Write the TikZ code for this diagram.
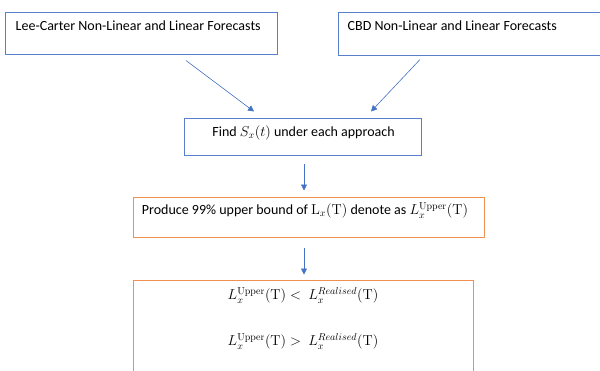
\documentclass[tikz,border=0pt]{standalone}
\usepackage[no-math]{fontspec}
\setmainfont{Carlito}
\usetikzlibrary{arrows.meta}
\definecolor{boxblue}{HTML}{4472C4}
\definecolor{boxorange}{HTML}{ED7D31}
\newcommand{\bigmath}[1]{{\fontsize{14}{16}\selectfont$#1$}}
\begin{document}
\begin{tikzpicture}[x=1pt, y=-1pt, box/.style={draw, rectangle, inner sep=0pt, line width=1pt}, bluebox/.style={box, draw=boxblue!90}, orangebox/.style={box, draw=boxorange!85}, txt/.style={inner sep=0pt, font=\fontsize{14}{16}\selectfont}, >={Triangle[length=6pt, width=6pt]}, arr/.style={->, draw=boxblue, line width=0.6pt}]
        \useasboundingbox (0,0) rectangle (600,370);
        \clip (0,0) rectangle (600,370);
        \node[bluebox, minimum width=272pt, minimum height=42pt] (lc) at (141,33) {};
        \node[bluebox, minimum width=266pt, minimum height=43pt] (cbd) at (471,33.5) {};
        \node[bluebox, minimum width=237pt, minimum height=37pt] (find) at (302.5,136.5) {};
        \node[orangebox, minimum width=351pt, minimum height=40pt] (produce) at (308.5,217) {};
        \node[orangebox, minimum width=340pt, minimum height=110pt] (final) at (303,335) {};
        \node[txt, anchor=base west] (lctext) at ([shift={(11pt,-19pt)}]lc.north west) {Lee-Carter Non-Linear and Linear Forecasts};
        \node[txt, anchor=base west] (cbdtext) at ([shift={(10pt,-19pt)}]cbd.north west) {CBD Non-Linear and Linear Forecasts};
        \node[txt, anchor=base] (findtext) at ([shift={(1pt,-19pt)}]find.north) {Find \bigmath{S_x(t)} under each approach};
        \node[txt, anchor=base] (producetext) at ([shift={(-3.5pt,-18pt)}]produce.north) {Produce 99\% upper bound of \bigmath{\mathrm{L}_x(\mathrm{T})} denote as \bigmath{L_x^{\mathrm{Upper}}(\mathrm{T})}};
        \node[txt, anchor=base] (less) at ([yshift=-20pt]final.north) {\bigmath{L_x^{\mathrm{Upper}}(\mathrm{T}) <\ L_x^{Realised}(\mathrm{T})}};
        \node[txt, anchor=base] (greater) at ([yshift=-66pt]final.north) {\bigmath{L_x^{\mathrm{Upper}}(\mathrm{T}) >\ L_x^{Realised}(\mathrm{T})}};
        \draw[arr] ([shift={(45pt,-6pt)}]lc.south) -- ([shift={(-48.5pt,6pt)}]find.north);
        \draw[arr] ([shift={(-51pt,-4pt)}]cbd.south) -- ([shift={(68.5pt,6pt)}]find.north);
        \draw[arr] ([shift={(1.5pt,-8pt)}]find.south) -- ([shift={(-4.5pt,6pt)}]produce.north);
        \draw[arr] ([shift={(-4.5pt,-10pt)}]produce.south) -- ([shift={(1pt,5pt)}]final.north);
    \end{tikzpicture}
\end{document}
